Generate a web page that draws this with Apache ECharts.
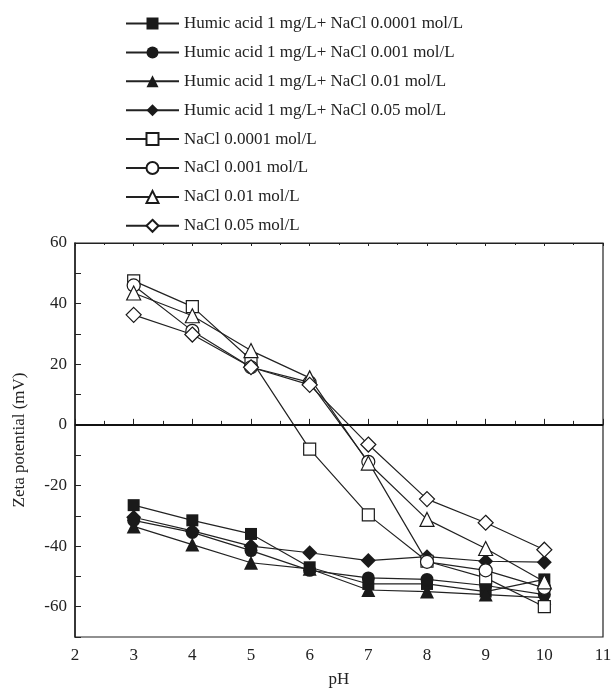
<!DOCTYPE html>
<html>
<head>
<meta charset="utf-8">
<script src="https://cdn.jsdelivr.net/npm/echarts@6/dist/echarts.min.js"></script>
<style>
  html, body { margin: 0; padding: 0; background: #fff; }
  #chart { width: 613px; height: 693px; }
</style>
</head>
<body>
<div id="chart"></div>
<script>
// pH values on the x axis
const ph = [3, 4, 5, 6, 7, 8, 9, 10];

// zeta potential (mV)
const ha00001 = [-26.5, -31.5, -36, -47, -52.5, -52.5, -55, -51];
const ha0001 = [-31.5, -35.5, -41.5, -48, -50.5, -51, -53, -56];
const ha001 = [-33.5, -39.5, -45.5, -47.5, -54.5, -55, -56, -57];
const ha005 = [-30.5, -35, -40, -42.2, -44.8, -43.5, -45, -45.3];
const na00001 = [47.5, 39, 21.5, -8, -29.7, -45, -50.5, -60];
const na0001 = [46, 31, 19, 14, -12.2, -45.2, -48, -53.8];
const na001 = [43.5, 36, 24.5, 15.5, -12.6, -31.2, -40.8, -51.8];
const na005 = [36.3, 29.8, 19, 13.2, -6.5, -24.5, -32.3, -41.2];

const names = [
  'Humic acid 1 mg/L+ NaCl 0.0001 mol/L',
  'Humic acid 1 mg/L+ NaCl 0.001 mol/L',
  'Humic acid 1 mg/L+ NaCl 0.01 mol/L',
  'Humic acid 1 mg/L+ NaCl 0.05 mol/L',
  'NaCl 0.0001 mol/L',
  'NaCl 0.001 mol/L',
  'NaCl 0.01 mol/L',
  'NaCl 0.05 mol/L'
];

const chart = echarts.init(document.getElementById('chart'));

function pts(vals) {
  return ph.map((x, i) => [x, vals[i]]);
}

function makeSeries(name, vals, symbol, size, filled) {
  return {
    name: name,
    type: 'line',
    data: pts(vals),
    symbol: symbol,
    symbolSize: size,
    showAllSymbol: true,
    lineStyle: { color: '#222', width: 1.2 },
    itemStyle: {
      color: filled ? '#1a1a1a' : '#fff',
      borderColor: '#1a1a1a',
      borderWidth: filled ? 0 : 1.2
    },
    emphasis: { disabled: true },
    z: filled ? 3 : 4
  };
}

const series = [
  makeSeries(names[0], ha00001, 'rect', 12, true),
  makeSeries(names[1], ha0001, 'circle', 13, true),
  makeSeries(names[2], ha001, 'triangle', 14, true),
  makeSeries(names[3], ha005, 'diamond', 15, true),
  makeSeries(names[4], na00001, 'rect', 12, false),
  makeSeries(names[5], na0001, 'circle', 13, false),
  makeSeries(names[6], na001, 'triangle', 14, false),
  makeSeries(names[7], na005, 'diamond', 15, false)
];

// zero line
series[0].markLine = {
  silent: true,
  symbol: 'none',
  label: { show: false },
  lineStyle: { color: '#111', width: 2, type: 'solid' },
  data: [{ yAxis: 0 }]
};

const font = 'Liberation Serif';

const option = {
  animation: false,
  backgroundColor: '#fff',
  legend: {
    orient: 'vertical',
    left: 120,
    top: 10,
    itemWidth: 53,
    itemHeight: 15,
    itemGap: 11.9,
    data: names,
    textStyle: { fontFamily: font, fontSize: 17, color: '#222' }
  },
  grid: {
    left: 75,
    right: 10,
    top: 243,
    bottom: 56,
    outerBoundsMode: 'none',
    show: true,
    borderColor: '#222',
    borderWidth: 1.2
  },
  xAxis: [{
    type: 'value',
    min: 2,
    max: 11,
    interval: 1,
    name: 'pH',
    nameLocation: 'middle',
    nameGap: 34,
    nameTextStyle: { fontFamily: font, fontSize: 17, color: '#222' },
    axisLine: { show: true, lineStyle: { color: '#222', width: 1.5 } },
    axisTick: { show: true, inside: true, length: 6, lineStyle: { color: '#222' } },
    minorTick: { show: true, splitNumber: 2, length: 4, lineStyle: { color: '#222' } },
    axisLabel: { fontFamily: font, fontSize: 17, color: '#222', margin: 10 },
    splitLine: { show: false }
  }, {
    type: 'value',
    position: 'top',
    min: 2,
    max: 11,
    interval: 1,
    axisLine: { show: true, lineStyle: { color: '#222', width: 1.2 } },
    axisTick: { show: true, inside: true, length: 3, lineStyle: { color: '#222' } },
    minorTick: { show: true, splitNumber: 2, length: 2, lineStyle: { color: '#222' } },
    axisLabel: { show: false },
    splitLine: { show: false }
  }],
  yAxis: {
    type: 'value',
    min: -70,
    max: 60,
    interval: 10,
    name: 'Zeta potential (mV)',
    nameLocation: 'middle',
    nameGap: 47,
    nameTextStyle: { fontFamily: font, fontSize: 17, color: '#222' },
    axisLine: { show: true, lineStyle: { color: '#222', width: 1.5 } },
    axisTick: { show: true, inside: true, length: 6, lineStyle: { color: '#222' } },
    axisLabel: {
      fontFamily: font, fontSize: 17, color: '#222', margin: 8,
      formatter: v => (v % 20 === 0 ? String(v) : '')
    },
    splitLine: { show: false }
  },
  series: series
};

chart.setOption(option);
</script>
</body>
</html>
